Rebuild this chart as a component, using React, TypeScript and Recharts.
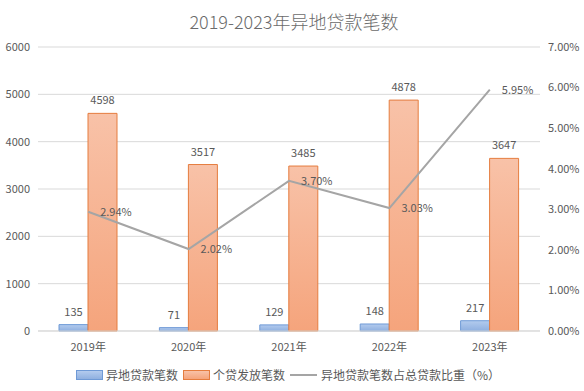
import React from "react";
import {
  ComposedChart, Bar, Line, XAxis, YAxis, CartesianGrid, LabelList,
} from "recharts";

const years = ["2019年", "2020年", "2021年", "2022年", "2023年"];
const remoteLoans = [135, 71, 129, 148, 217];
const personalLoans = [4598, 3517, 3485, 4878, 3647];
const remoteShare = [2.94, 2.02, 3.7, 3.03, 5.95];
const leftTicks = [0, 1000, 2000, 3000, 4000, 5000, 6000];
const rightTicks = [0, 1, 2, 3, 4, 5, 6, 7];

const NAME_REMOTE = "异地贷款笔数";
const NAME_PERSONAL = "个贷发放笔数";
const NAME_SHARE = "异地贷款笔数占总贷款比重（%）";

const data = years.map((y, i) => ({
  year: y,
  remote: remoteLoans[i],
  personal: personalLoans[i],
  share: remoteShare[i],
}));

const FONT = "'Noto Sans CJK SC', 'Noto Sans', sans-serif";
const TXT = "#595959";
const tick = { fontSize: 11, fill: TXT, fontFamily: FONT };

export default function App() {
  return (
    <div style={{ position: "absolute", left: 0, top: 0, width: 584, height: 391, background: "#fff", fontFamily: FONT }}>
      <div style={{ position: "absolute", top: 8, left: 0, width: 588, textAlign: "center", fontSize: 18, color: "#6b6b6b", fontWeight: 300 }}>
        2019-2023年异地贷款笔数
      </div>
      <ComposedChart width={584} height={391} data={data}
        margin={{ top: 47, right: 0, bottom: 30, left: 0 }} barGap={0}>
        <defs>
          <linearGradient id="gBlue" x1="0" y1="0" x2="0" y2="1">
            <stop offset="0%" stopColor="#b3cbee" />
            <stop offset="100%" stopColor="#8fb0e0" />
          </linearGradient>
          <linearGradient id="gOrange" x1="0" y1="0" x2="0" y2="1">
            <stop offset="0%" stopColor="#f8c2a8" />
            <stop offset="100%" stopColor="#f5a47c" />
          </linearGradient>
        </defs>
        <CartesianGrid vertical={false} stroke="#d9d9d9" yAxisId="left" />
        <XAxis dataKey="year" tick={tick} tickLine={false} stroke="#d9d9d9" tickMargin={6} height={30} />
        <YAxis yAxisId="left" domain={[0, 6000]} ticks={leftTicks} tick={tick}
          axisLine={false} tickLine={false} width={38} />
        <YAxis yAxisId="right" orientation="right" domain={[0, 7]} ticks={rightTicks}
          tickFormatter={(v: number) => v.toFixed(2) + "%"} tick={tick}
          axisLine={false} tickLine={false} width={44} />
        <Bar yAxisId="left" dataKey="remote" name={NAME_REMOTE} barSize={29}
          fill="url(#gBlue)" stroke="#6f9ad6" strokeWidth={1} isAnimationActive={false}>
          <LabelList dataKey="remote" position="top" offset={9} style={{ fontSize: 11, fill: TXT, fontFamily: FONT }} />
        </Bar>
        <Bar yAxisId="left" dataKey="personal" name={NAME_PERSONAL} barSize={29}
          fill="url(#gOrange)" stroke="#e57d3f" strokeWidth={1} isAnimationActive={false}>
          <LabelList dataKey="personal" position="top" offset={9} style={{ fontSize: 11, fill: TXT, fontFamily: FONT }} />
        </Bar>
        <Line yAxisId="right" dataKey="share" name={NAME_SHARE} stroke="#a5a5a5" strokeWidth={2}
          dot={false} activeDot={false} isAnimationActive={false}>
          <LabelList dataKey="share" position="right" offset={12}
            formatter={(v: any) => Number(v).toFixed(2) + "%"}
            style={{ fontSize: 11, fill: TXT, fontFamily: FONT }} />
        </Line>
      </ComposedChart>
      <div style={{ position: "absolute", top: 366, left: 0, width: 584, display: "flex", justifyContent: "center",
        alignItems: "center", fontSize: 12, color: TXT, marginLeft: -4 }}>
        <span style={{ display: "inline-block", width: 25, height: 8, background: "linear-gradient(#b3cbee,#8fb0e0)", border: "1px solid #6f9ad6", marginRight: 3 }} />
        <span style={{ marginRight: 5 }}>{NAME_REMOTE}</span>
        <span style={{ display: "inline-block", width: 25, height: 8, background: "linear-gradient(#f8c2a8,#f5a47c)", border: "1px solid #e57d3f", marginRight: 3 }} />
        <span style={{ marginRight: 5 }}>{NAME_PERSONAL}</span>
        <span style={{ display: "inline-block", width: 27, height: 2, background: "#a5a5a5", marginRight: 4 }} />
        <span>{NAME_SHARE}</span>
      </div>
    </div>
  );
}
